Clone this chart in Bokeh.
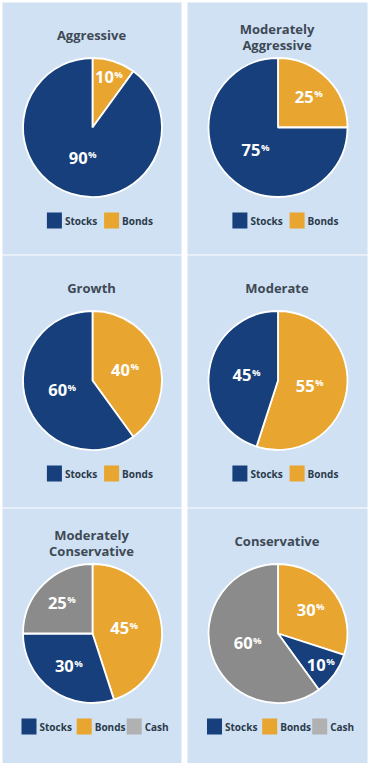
import math
from bokeh.plotting import figure
from bokeh.models import Range1d
from bokeh.core.properties import value
from bokeh.embed import file_html
from bokeh.resources import INLINE

# ---- data ----
titles = ["Aggressive", "Moderately\nAggressive", "Growth", "Moderate",
          "Moderately\nConservative", "Conservative"]
categories = ["Bonds", "Stocks", "Cash"]          # clockwise order from 12 o'clock
legend_order = ["Stocks", "Bonds", "Cash"]
stocks = [90, 75, 60, 45, 30, 10]
bonds = [10, 25, 40, 55, 45, 30]
cash = [0, 0, 0, 0, 25, 60]

# ---- styles ----
colors = {"Stocks": "#173f7c", "Bonds": "#e8a630", "Cash": "#8b8b8b"}
legend_colors = {"Stocks": "#173f7c", "Bonds": "#e8a630", "Cash": "#b1b1b1"}
BG = "#cfe1f3"
TITLE_COLOR = "#3e4955"
LEG_TEXT = "#2b3a4a"
FONT = value("Open Sans")

W, H = 369, 763
PAGE_H = 779


def Y(sy):
    return PAGE_H - sy


p = figure(width=W, height=H, output_backend="svg", toolbar_location=None,
           x_range=Range1d(8, 8 + W), y_range=Range1d(PAGE_H - 8 - H, PAGE_H - 8),
           x_axis_location=None, y_axis_location=None, min_border=0,
           background_fill_color="white", border_fill_color="white")
p.grid.visible = False
p.outline_line_color = None

cols = [(10, 189), (195, 375)]
rows = [(10, 262), (263, 515), (516, 771)]
R = 69.5

series = {"Stocks": stocks, "Bonds": bonds, "Cash": cash}

for i, title in enumerate(titles):
    r_i, c_i = divmod(i, 2)
    x0, x1 = cols[c_i]
    top, bot = rows[r_i]
    cx = (x0 + x1) / 2 + 0.5

    # panel background
    p.quad(left=[x0], right=[x1], bottom=[Y(bot)], top=[Y(top)],
           fill_color=BG, line_color=None)

    # title
    lines = title.split("\n")
    ys = [top + 32] if len(lines) == 1 else [top + 26.5, top + 42]
    for ln, ty in zip(lines, ys):
        p.text(x=[cx - 1], y=[Y(ty)], text=[ln], text_font=FONT,
               text_font_style="bold", text_font_size="13px",
               text_color=TITLE_COLOR, text_align="center",
               text_baseline="middle")

    # pie
    pcy = Y(top + 125)
    cum = 0.0
    for cat in categories:
        v = series[cat][i]
        if v <= 0:
            continue
        f0 = cum / 100.0
        f1 = (cum + v) / 100.0
        cum += v
        start = math.radians(90 - 360 * f1)
        end = math.radians(90 - 360 * f0)
        p.wedge(x=[cx], y=[pcy], radius=R, start_angle=[start], end_angle=[end],
                fill_color=colors[cat], line_color="white", line_width=1.8)
        # label
        frac = v / 100.0
        mid = (start + end) / 2
        lr = R * max(0.46, 0.85 - 0.9 * frac)
        lx = cx + lr * math.cos(mid)
        ly = pcy + lr * math.sin(mid)
        p.text(x=[lx + 5], y=[ly], text=[str(v)], text_font=FONT,
               text_font_style="bold", text_font_size="16.5px",
               text_color="white", text_align="right", text_baseline="middle")
        p.text(x=[lx + 5.5], y=[ly + 3], text=["%"], text_font=FONT,
               text_font_style="bold", text_font_size="9.5px",
               text_color="white", text_align="left", text_baseline="middle")

    # legend
    items = [c for c in legend_order if series[c][i] > 0]
    widths = [15 + 3 + len(c) * 5.2 for c in items]
    gap = 8 if len(items) == 2 else 6
    total = sum(widths) + gap * (len(items) - 1)
    shift = 5 if len(items) == 2 else 1
    lx0 = cx - total / 2 + shift
    ly = Y(top + 218)
    for c, w in zip(items, widths):
        p.rect(x=[lx0 + 7.5], y=[ly], width=15, height=16,
               fill_color=legend_colors[c], line_color=None)
        p.text(x=[lx0 + 18], y=[ly], text=[c], text_font=FONT,
               text_font_style="bold", text_font_size="10px",
               text_color=LEG_TEXT, text_align="left", text_baseline="middle")
        lx0 += w + gap

open("out.html", "w").write(file_html(p, INLINE))
